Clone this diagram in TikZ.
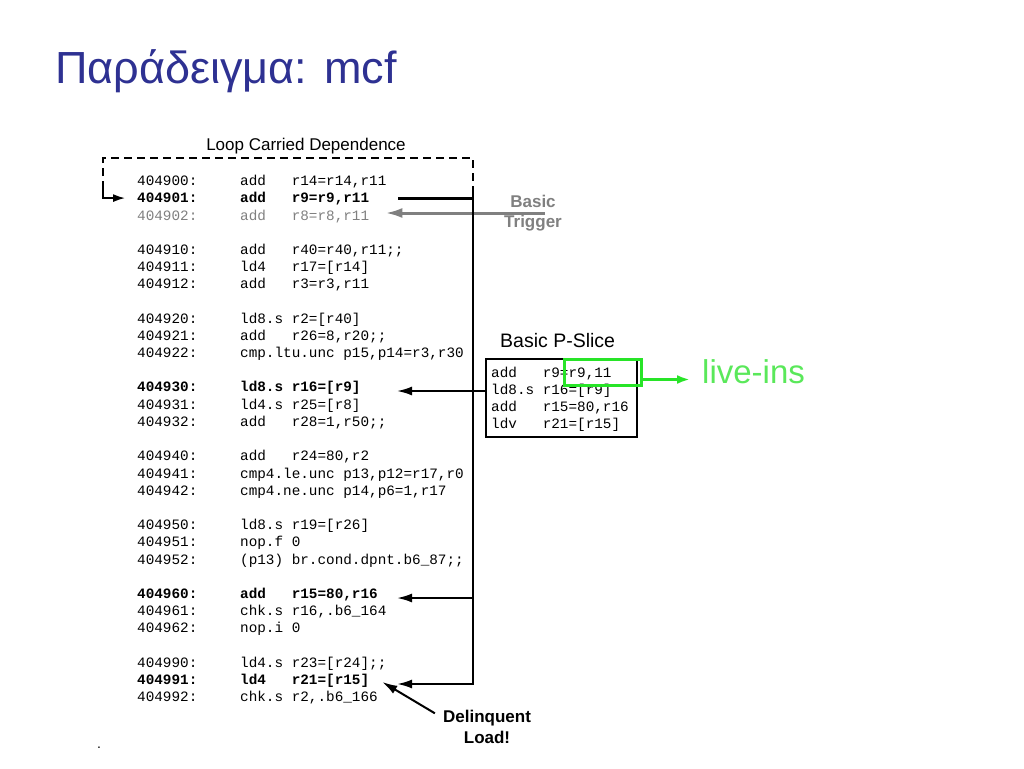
\documentclass[tikz,border=0pt]{standalone}
\usepackage{fontspec}
\setmainfont{Liberation Sans}
\setmonofont{Liberation Mono}
\usetikzlibrary{arrows.meta}
\definecolor{titleblue}{RGB}{46,49,146}
\definecolor{trig}{RGB}{128,128,128}
\definecolor{livegreen}{RGB}{40,228,40}
\definecolor{livetext}{RGB}{90,232,90}
\newcommand{\codeln}[3]{\makebox[103pt][l]{#1}\makebox[51.6pt][l]{#2}#3}
\newcommand{\codelong}[2]{\makebox[103pt][l]{#1}#2}
\newcommand{\sliceln}[2]{\makebox[51.6pt][l]{#1}#2}

\begin{document}
\begin{tikzpicture}[x=1pt,y=-1pt,>={Latex[length=15pt,width=9pt]}]

\tikzstyle{code}=[anchor=base west,inner sep=0pt,font=\fontsize{14.33pt}{17pt}\ttfamily\selectfont]
\tikzstyle{code2}=[code,font=\fontsize{14.33pt}{17pt}\ttfamily\bfseries\selectfont]
\tikzstyle{code3}=[code,text=trig]
\tikzstyle{slice}=[rectangle,draw=black,line width=2pt,anchor=north west,minimum width=151pt,minimum height=78pt,inner sep=0pt]
\tikzstyle{live}=[rectangle,draw=livegreen,line width=3pt,anchor=north west,minimum width=77pt,minimum height=26pt,inner sep=0pt]
\tikzstyle{tag}=[align=center,inner sep=0pt,font=\fontsize{17pt}{20.5pt}\bfseries\selectfont]
\tikzstyle{head}=[anchor=base west,inner sep=0pt]

\useasboundingbox (0,0) rectangle (1024,768);

\node[head,text=titleblue,font=\fontsize{45pt}{54pt}\selectfont] (title) at (55,83) {Παράδειγμα: mcf};
\node[inner sep=0pt,font=\fontsize{17pt}{20pt}\selectfont] (lcd) at (306,146) {Loop Carried Dependence};

\node[code] (i900) at (137,185) {\codeln{404900:}{add}{r14=r14,r11}};
\node[code2] (i901) at (137,202) {\codeln{404901:}{add}{r9=r9,r11}};
\node[code3] (i902) at (137,220) {\codeln{404902:}{add}{r8=r8,r11}};

\node[code] (i910) at (137,254) {\codeln{404910:}{add}{r40=r40,r11;;}};
\node[code] (i911) at (137,271) {\codeln{404911:}{ld4}{r17=[r14]}};
\node[code] (i912) at (137,288) {\codeln{404912:}{add}{r3=r3,r11}};

\node[code] (i920) at (137,323) {\codeln{404920:}{ld8.s}{r2=[r40]}};
\node[code] (i921) at (137,340) {\codeln{404921:}{add}{r26=8,r20;;}};
\node[code] (i922) at (137,357) {\codelong{404922:}{cmp.ltu.unc p15,p14=r3,r30}};

\node[code2] (i930) at (137,391) {\codeln{404930:}{ld8.s}{r16=[r9]}};
\node[code] (i931) at (137,409) {\codeln{404931:}{ld4.s}{r25=[r8]}};
\node[code] (i932) at (137,426) {\codeln{404932:}{add}{r28=1,r50;;}};

\node[code] (i940) at (137,460) {\codeln{404940:}{add}{r24=80,r2}};
\node[code] (i941) at (137,478) {\codelong{404941:}{cmp4.le.unc p13,p12=r17,r0}};
\node[code] (i942) at (137,495) {\codelong{404942:}{cmp4.ne.unc p14,p6=1,r17}};

\node[code] (i950) at (137,529) {\codeln{404950:}{ld8.s}{r19=[r26]}};
\node[code] (i951) at (137,546) {\codeln{404951:}{nop.f}{0}};
\node[code] (i952) at (137,564) {\codeln{404952:}{(p13)}{br.cond.dpnt.b6\_87;;}};

\node[code2] (i960) at (137,598) {\codeln{404960:}{add}{r15=80,r16}};
\node[code] (i961) at (137,615) {\codeln{404961:}{chk.s}{r16,.b6\_164}};
\node[code] (i962) at (137,632) {\codeln{404962:}{nop.i}{0}};

\node[code] (i990) at (137,667) {\codeln{404990:}{ld4.s}{r23=[r24];;}};
\node[code2] (i991) at (137,684) {\codeln{404991:}{ld4}{r21=[r15]}};
\node[code] (i992) at (137,701) {\codeln{404992:}{chk.s}{r2,.b6\_166}};

\node[head,font=\fontsize{19.5pt}{24pt}\selectfont] (pslice) at (500,347) {Basic P-Slice};
\node[slice] (slice) at (485,358) {};
\node[code] (s1) at (491,377) {\sliceln{add}{r9=r9,11}};
\node[code] (s2) at (491,394) {\sliceln{ld8.s}{r16=[r9]}};
\node[code] (s3) at (491,411) {\sliceln{add}{r15=80,r16}};
\node[code] (s4) at (491,428) {\sliceln{ldv}{r21=[r15]}};
\node[live] (livebox) at (563,358) {};
\node[head,text=livetext,font=\fontsize{33pt}{38pt}\selectfont] (livein) at (702,383) {live-ins};

\node[tag,text=trig] (bt) at (533,213) {Basic\\Trigger};
\node[tag] (dl) at (487,727) {Delinquent\\Load!};
\node[head,font=\fontsize{14pt}{17pt}\selectfont] (dot) at (97,748) {.};

\coordinate (lcdl) at (103,189);
\coordinate (lcdr) at (473,189);
\coordinate (tipcol) at (397,0);
\coordinate (trigtip) at ([xshift=16pt]i902.east);
\coordinate (livestart) at ([yshift=-7pt]livebox.east);
\coordinate (livetip) at ([xshift=-12pt]livein.base west);

\draw[line width=3pt,trig,-{Latex[length=17pt,width=10pt]}] ([xshift=12pt]bt.center) -- (trigtip |- bt.center);
\draw[line width=1.5pt,dash pattern=on 8pt off 5pt] (lcdl) -- (103,158) -- (473,158) -- (lcdr);
\draw[line width=1.5pt,-{Latex[length=12pt,width=8pt]}] (lcdl) |- ([xshift=-12pt]i901.west);
\draw[line width=3pt] ([xshift=29pt]i901.east) -- (lcdr |- i901.east);
\draw[line width=2.2pt,->] (lcdr) |- (tipcol |- i991.base);
\draw[line width=2pt,->] (slice.west |- i930.base) -- (tipcol |- i930.base);
\draw[line width=2pt,->] (lcdr |- i960.base) -- (tipcol |- i960.base);
\draw[line width=2pt,->] ([xshift=-8pt,yshift=-3pt]dl.north west) -- ([shift={(13pt,2pt)}]i991.base east);
\draw[line width=3pt,livegreen,-{Latex[length=13pt,width=9pt]}] (livestart) -- (livetip |- livestart);
\end{tikzpicture}
\end{document}
